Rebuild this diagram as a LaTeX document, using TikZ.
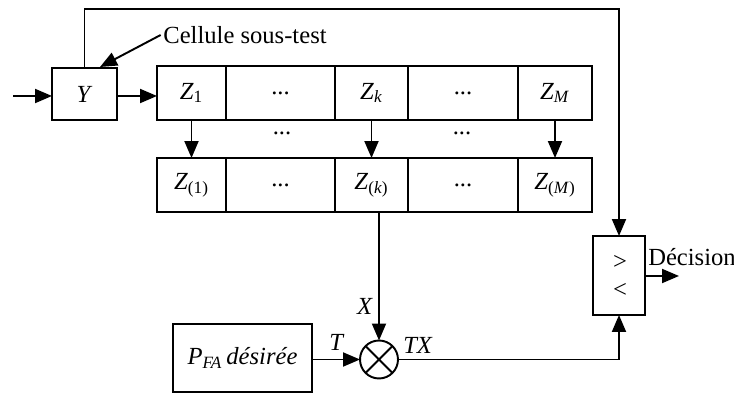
\documentclass[tikz,border=0pt]{standalone}
\usepackage{fontspec}
\setmainfont{Liberation Serif}
\usetikzlibrary{arrows.meta}

\begin{document}
\begin{tikzpicture}[x=0.02cm,y=-0.02cm,line width=1.1pt,cell/.style={draw,minimum height=1.08cm,inner sep=0pt,outer sep=0pt,font=\fontsize{14}{16}\selectfont},lbl/.style={font=\fontsize{14}{16}\selectfont,inner sep=1pt},a/.style={-{Triangle[length=3.4mm,width=2.8mm]}}]
\useasboundingbox (0,0) rectangle (734,394);
\node[cell,minimum width=1.3cm,minimum height=1.04cm] (y) at (84.5,94) {\textit{Y}};
\node[lbl] (cel) at (245,35) {Cellule sous-test};
\coordinate (in) at (13,96);
\coordinate (ct) at (100,67);
\coordinate (top) at (619,9);
\coordinate (out) at (679,276);
% received cells
\node[cell,minimum width=1.38cm] (z1) at (191.5,93) {\textit{Z}\textsubscript{1}};
\node[cell,minimum width=2.18cm] (d1) at (280.5,93) {...};
\node[cell,minimum width=1.46cm] (zk) at (371.5,93) {\textit{Z}\textsubscript{\textit{k}}};
\node[cell,minimum width=2.2cm] (d2) at (463,93) {...};
\node[cell,minimum width=1.48cm] (zm) at (555,93) {\textit{Z}\textsubscript{\textit{M}}};
% sorted cells
\node[cell,minimum width=1.38cm] (s1) at (191.5,185) {\textit{Z}\textsubscript{(1)}};
\node[cell,minimum width=2.18cm] (e1) at (280.5,185) {...};
\node[cell,minimum width=1.46cm] (sk) at (371.5,185) {\textit{Z}\textsubscript{(\textit{k})}};
\node[cell,minimum width=2.2cm] (e2) at (463,185) {...};
\node[cell,minimum width=1.48cm] (sm) at (555,185) {\textit{Z}\textsubscript{(\textit{M})}};
\node[lbl] (m1) at (282,133) {...};
\node[lbl] (m2) at (462,133) {...};
% threshold and comparison
\node[cell,minimum width=2.78cm,minimum height=1.36cm] (pfa) at (242.5,358) {\textit{P}\textsubscript{\textit{FA}}\,\textit{désirée}};
\node[draw,circle,minimum size=0.76cm,inner sep=0pt,outer sep=0pt] (mul) at (379,359.5) {};
\draw (mul.north west) -- (mul.south east) (mul.north east) -- (mul.south west);
\node[cell,minimum width=1.04cm,minimum height=1.58cm] (cmp) at (619,275.5) {};
\node[lbl] (gt) at (620,262) {>};
\node[lbl] (lt) at (620,290) {<};
\node[lbl] (dec) at (692,257) {Décision};
\node[lbl] (t) at (337,342) {\textit{T}};
\node[lbl] (x) at (365,306) {\textit{X}};
\node[lbl] (tx) at (418,345) {\textit{TX}};
\draw[a] (in) -- (in -| y.west);
\draw[a] (y.east |- in) -- (in -| z1.west);
\draw[a] (cel.west) -- (ct);
\draw[a] (y.north) |- (top) -- (cmp.north);
\draw[a] (z1) -- (s1);
\draw[a] (zk) -- (sk);
\draw[a] (zm) -- (sm);
\draw[a] (sk.south -| mul.north) -- (mul.north);
\draw[a] (pfa.east |- mul) -- (mul.west);
\draw[a] (mul.east) -| (cmp.south);
\draw[a] (cmp.east |- out) -- (out);
\end{tikzpicture}
\end{document}
